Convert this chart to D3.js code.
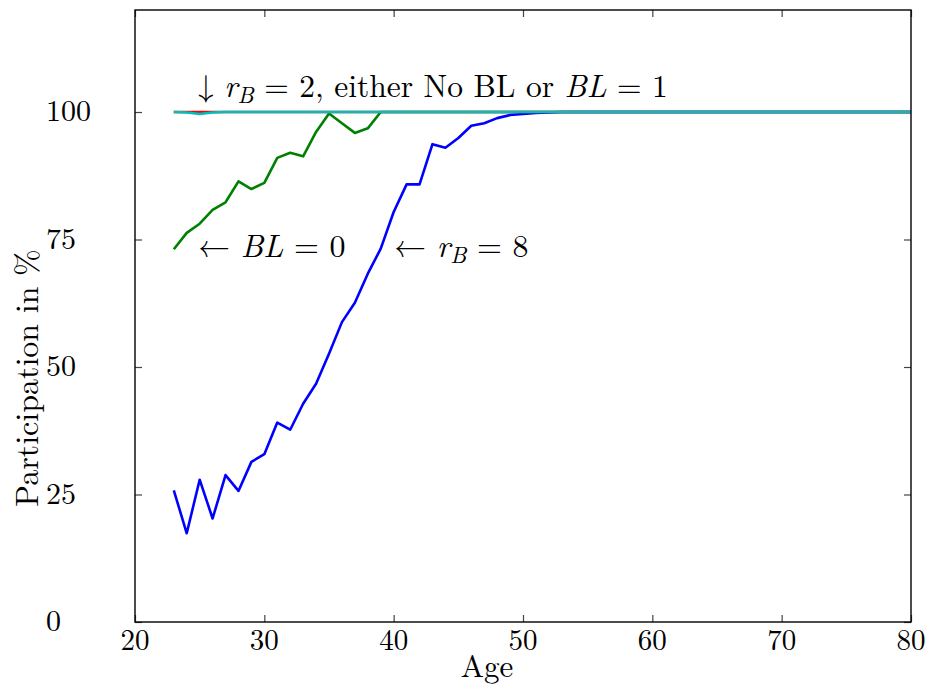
<!DOCTYPE html>
<meta charset="utf-8">
<script src="https://cdn.jsdelivr.net/npm/d3@7"></script>
<body style="margin:0; background:#fff">
<script>

var FONT = "Latin Modern Roman";

// ages 23..80
var ages = [23,24,25,26,27,28,29,30,31,32,33,34,35,36,37,38,39,40,41,42,43,44,45,46,47,48,49,50,
  51,52,53,54,55,56,57,58,59,60,61,62,63,64,65,66,67,68,69,70,71,72,73,74,75,76,77,78,79,80];

// r_B = 8
var rb8 = [25.8,17.4,27.9,20.3,28.8,25.7,31.4,32.9,39.1,37.7,42.8,46.7,52.6,58.8,62.6,68.3,73.2,80.4,
  85.8,85.8,93.7,93.0,94.9,97.3,97.8,98.8,99.4,99.6,99.8,99.9,100,100,100,100,100,100,100,100,100,100,
  100,100,100,100,100,100,100,100,100,100,100,100,100,100,100,100,100,100];

// BL = 0
var bl0 = [73.1,76.3,78.1,80.8,82.3,86.4,84.9,86.1,91.0,92.0,91.3,96.1,99.7,97.8,95.9,96.8,100,100,
  100,100,100,100,100,100,100,100,100,100,100,100,100,100,100,100,100,100,100,100,100,100,
  100,100,100,100,100,100,100,100,100,100,100,100,100,100,100,100,100,100];

// r_B = 2, No BL
var noBL = [100,100,100,100,100,100,100,100,100,100,100,100,100,100,100,100,100,100,100,100,
  100,100,100,100,100,100,100,100,100,100,100,100,100,100,100,100,100,100,100,100,
  100,100,100,100,100,100,100,100,100,100,100,100,100,100,100,100,100,100];

// r_B = 2, BL = 1
var bl1 = [100,99.9,99.6,99.9,100,100,100,100,100,100,100,100,100,100,100,100,100,100,100,100,
  100,100,100,100,100,100,100,100,100,100,100,100,100,100,100,100,100,100,100,100,
  100,100,100,100,100,100,100,100,100,100,100,100,100,100,100,100,100,100];

var xTicks = [20,30,40,50,60,70,80];
var yTicks = [0,25,50,75,100];

var width = 932, height = 690;
var L = 135, R = 911, T = 10, B = 622;

var svg = d3.select("body").append("svg")
    .attr("width", width)
    .attr("height", height);

var x = d3.scaleLinear().domain([20, 80]).range([L, R]);
var y = d3.scaleLinear().domain([0, 120]).range([B, T]);

var line = d3.line()
    .x(function(d, i) { return x(ages[i]); })
    .y(function(d) { return y(d); });

function txt(sel, size) {
  return sel.style("font-family", FONT).style("font-size", size + "px").attr("fill", "#000");
}

// ticks, pointing inward on all four sides
function tickStyle(g) {
  g.select(".domain").remove();
  g.selectAll(".tick line").attr("stroke", "#444").attr("stroke-width", 1.2);
  g.selectAll(".tick text").remove();
}
svg.append("g").attr("transform", "translate(0," + B + ")")
  .call(d3.axisBottom(x).tickValues(xTicks).tickSize(-7)).call(tickStyle);
svg.append("g").attr("transform", "translate(0," + T + ")")
  .call(d3.axisTop(x).tickValues(xTicks).tickSize(-7)).call(tickStyle);
svg.append("g").attr("transform", "translate(" + L + ",0)")
  .call(d3.axisLeft(y).tickValues(yTicks).tickSize(-7)).call(tickStyle);
svg.append("g").attr("transform", "translate(" + R + ",0)")
  .call(d3.axisRight(y).tickValues(yTicks).tickSize(-7)).call(tickStyle);

// tick labels
svg.selectAll(".xl").data(xTicks).enter().append("text")
  .call(txt, 29)
  .attr("x", function(d) { return x(d); })
  .attr("y", 650)
  .attr("text-anchor", "middle")
  .text(function(d) { return d; });

svg.selectAll(".yl").data(yTicks).enter().append("text")
  .call(txt, 30)
  .attr("x", 46)
  .attr("y", function(d) { return y(d) + 9; })
  .text(function(d) { return d; });

// series
var series = [
  {v: bl0, c: "#008000"},
  {v: rb8, c: "#0000ff"},
  {v: noBL, c: "#ff0000"},
  {v: bl1, c: "#00bfbf"}
];
series.forEach(function(s) {
  svg.append("path")
    .attr("d", line(s.v))
    .attr("fill", "none")
    .attr("stroke", s.c)
    .attr("stroke-width", 2.6)
    .attr("stroke-linejoin", "round");
});

// frame
svg.append("rect")
  .attr("x", L).attr("y", T)
  .attr("width", R - L).attr("height", B - T)
  .attr("fill", "none")
  .attr("stroke", "#000")
  .attr("stroke-width", 1.4);

// axis titles
svg.append("text").call(txt, 31)
  .attr("x", 487).attr("y", 677)
  .attr("text-anchor", "middle")
  .text("Age");

svg.append("text").call(txt, 32)
  .attr("transform", "translate(38,378) rotate(-90)")
  .attr("text-anchor", "middle")
  .text("Participation in %");

// annotations
function sub(t, s) {
  t.append("tspan").style("font-style", "italic").text("r");
  t.append("tspan").attr("dy", 6).style("font-style", "italic").style("font-size", "23px").text("B");
  t.append("tspan").attr("dy", -6).text(s);
}

var a1 = svg.append("text").call(txt, 31.5).attr("x", 198).attr("y", 97);
a1.append("tspan").text("\u2193 ");
sub(a1, " = 2, either No BL or ");
a1.append("tspan").style("font-style", "italic").text("BL");
a1.append("tspan").text(" = 1");

var a2 = svg.append("text").call(txt, 32).attr("x", 198).attr("y", 257);
a2.append("tspan").text("\u2190 ");
a2.append("tspan").style("font-style", "italic").text("BL");
a2.append("tspan").text(" = 0");

var a3 = svg.append("text").call(txt, 32).attr("x", 394).attr("y", 257);
a3.append("tspan").text("\u2190 ");
sub(a3, " = 8");

</script>
</body>
